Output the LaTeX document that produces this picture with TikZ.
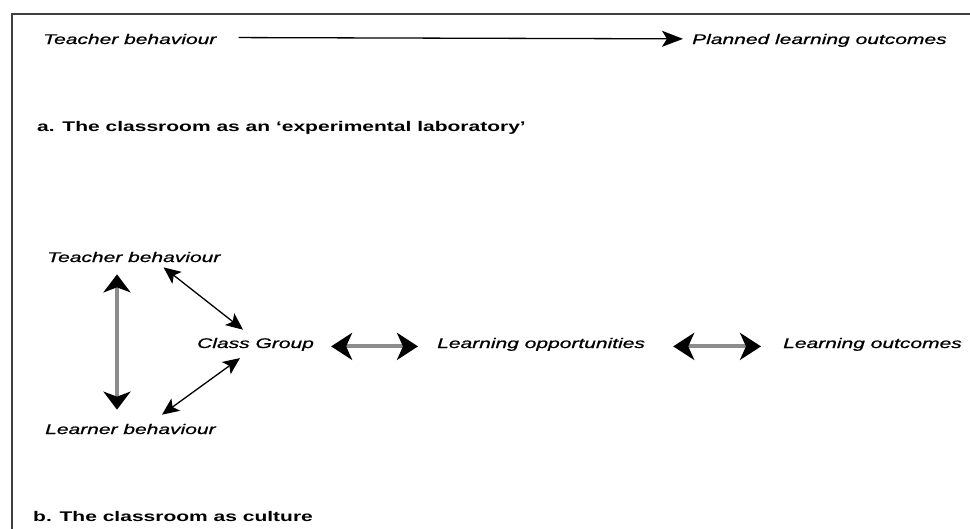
\documentclass[tikz,border=0pt]{standalone}
\usepackage{fontspec}
\setmainfont{Liberation Sans}[FakeStretch=1.5, ItalicFeatures={FakeBold=0.8}]
\usetikzlibrary{arrows.meta,calc}

\tikzset{
  lbl/.style={anchor=base west, inner sep=0pt, font=\fontsize{14}{16}\selectfont\itshape},
  heading/.style={anchor=base west, inner sep=0pt, font=\fontsize{14}{16}\selectfont\bfseries},
  frame/.style={draw=black!75, line width=1.8pt},
  thinarrow/.style={draw=black, line width=1.3pt},
  greyshaft/.style={draw=black!45, line width=4pt},
  bigtips/.style={{Stealth[length=21pt,width=27pt,inset=6pt,color=black]}-{Stealth[length=21pt,width=27pt,inset=6pt,color=black]}},
  vtips/.style={{Stealth[length=18pt,width=27pt,inset=5pt,color=black]}-{Stealth[length=18pt,width=27pt,inset=5pt,color=black]}},
  smalltips/.style={{Stealth[length=17pt,width=15pt,inset=4pt]}-{Stealth[length=17pt,width=15pt,inset=4pt]}},
}

\begin{document}
\begin{tikzpicture}[x=1pt,y=-1pt]
  \useasboundingbox (0,0) rectangle (970,528);
  \fill[white] (0,0) rectangle (970,528);

  % outer frame, running past the right and bottom edges
  \begin{scope}
    \clip (0,0) rectangle (970,528);
    \draw[frame] (12,14) rectangle (1000,560);
  \end{scope}

  % (a) linear model
  \node[lbl] (t1) at (43,44) {Teacher behaviour};
  \node[lbl] (plo) at (692,44) {Planned learning outcomes};
  \draw[thinarrow, -{Stealth[length=21pt,width=16pt,inset=5pt]},
        shorten <=22pt, shorten >=9pt] ([yshift=1.5pt]t1.east) -- ([yshift=1.5pt]plo.west);

  \node[heading] (ha) at (37,131) {a. The classroom as an `experimental laboratory'};

  % (b) interaction model
  \node[lbl] (t2) at (47,262) {Teacher behaviour};
  \node[lbl] (lb) at (45,434) {Learner behaviour};
  \node[lbl] (cg) at (197,348) {Class Group};
  \node[lbl] (lop) at (437,348) {Learning opportunities};
  \node[lbl] (lout) at (783,348) {Learning outcomes};

  \draw[greyshaft, vtips] ($(t2.south west)+(70,12)$) -- ($(lb.north west)+(72,-14)$);
  \draw[thinarrow, smalltips] ($(t2.south east)+(-57,5)$) -- ($(cg.north west)+(46,-8)$);
  \draw[thinarrow, smalltips] ($(cg.south west)+(43,7)$) -- ($(lb.north west)+(117,-9)$);

  \draw[greyshaft, bigtips, shorten <=17pt, shorten >=19pt]
    ([yshift=-2pt]cg.east) -- ([yshift=-2pt]lop.west);
  \draw[greyshaft, bigtips, shorten <=28pt, shorten >=22pt]
    ([yshift=-2pt]lop.east) -- ([yshift=-2pt]lout.west);

  \node[heading] (hb) at (33,521) {b. The classroom as culture};
\end{tikzpicture}
\end{document}
